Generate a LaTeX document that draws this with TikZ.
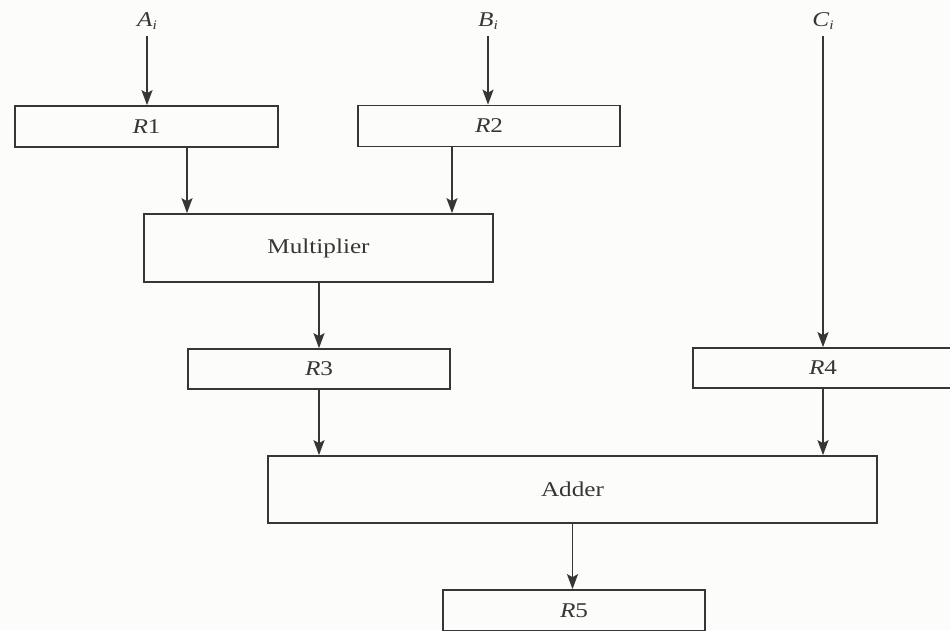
\documentclass[tikz,border=0pt]{standalone}
\usepackage{fontspec}
\setmainfont{Liberation Serif}[FakeStretch=1.2]
\usetikzlibrary{arrows.meta}

\definecolor{ink}{HTML}{363636}
\definecolor{paper}{HTML}{FCFCFB}

% italic register name with an upright index, e.g. R1
\newcommand{\regname}[2]{\textit{#1}#2}
% input operand with a lowered italic subscript i
\newcommand{\operand}[1]{\textit{#1}\raisebox{-0.35ex}{\fontsize{13}{13}\selectfont\textit{i}}}

\tikzset{
  box/.style={draw=ink, line width=1.7pt, rectangle, inner sep=0pt,
              text=ink, font=\fontsize{21}{24}\selectfont},
  reg/.style={box, minimum height=41pt},
  unit/.style={box, minimum height=68pt},
  lbl/.style={text=ink, font=\fontsize{21}{24}\selectfont, inner sep=2pt},
  flow/.style={draw=ink, line width=1.7pt,
               -{Stealth[length=15pt, width=11pt, inset=3pt]}},
}

\begin{document}
\begin{tikzpicture}[x=1pt, y=-1pt]
  \useasboundingbox (0,0) rectangle (950,630);
  \fill[paper] (0,0) rectangle (950,630);
  \clip (0,0) rectangle (950,630);

  % operand inputs
  \node[lbl] (Ai) at (147,21) {\operand{A}};
  \node[lbl] (Bi) at (488,21) {\operand{B}};
  \node[lbl] (Ci) at (823,21) {\operand{C}};

  % first stage registers
  \node[reg, minimum width=263pt] (R1) at (146.5,126.5) {\regname{R}{1}};
  \node[reg, minimum width=262pt] (R2) at (489,126) {\regname{R}{2}};

  % multiplier stage
  \node[unit, minimum width=349pt] (mult) at (318.5,248) {Multiplier};

  % second stage registers
  \node[reg, minimum width=262pt, minimum height=40pt] (R3) at (319,369) {\regname{R}{3}};
  \node[reg, minimum width=260pt, minimum height=40pt] (R4) at (823,368) {\regname{R}{4}};

  % adder stage
  \node[unit, minimum width=609pt, minimum height=67pt] (adder) at (572.5,489.5) {Adder};

  % result register
  \node[reg, minimum width=262pt] (R5) at (574,610.5) {\regname{R}{5}};

  % data flow (inputs start a little below their labels)
  \draw[flow] ([yshift=-4pt]Ai.south) -- (Ai.south |- R1.north);
  \draw[flow] ([yshift=-4pt]Bi.south) -- (Bi.south |- R2.north);
  \draw[flow] ([xshift=40.5pt]R1.south) -- ([xshift=40.5pt]R1.south |- mult.north);
  \draw[flow] ([xshift=-37pt]R2.south) -- ([xshift=-37pt]R2.south |- mult.north);
  \draw[flow] ([xshift=0.5pt]mult.south) -- ([xshift=0.5pt]mult.south |- R3.north);
  \draw[flow] ([yshift=-4pt]Ci.south) -- (Ci.south |- R4.north);
  \draw[flow] (R3.south) -- (R3.south |- adder.north);
  \draw[flow] (R4.south) -- (R4.south |- adder.north);
  \draw[flow] (adder.south) -- (adder.south |- R5.north);
\end{tikzpicture}
\end{document}
